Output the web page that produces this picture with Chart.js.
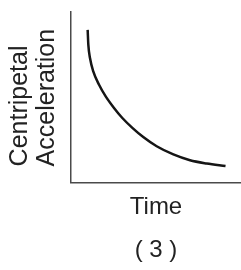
<!DOCTYPE html>
<html lang="en">
<head>
    <meta charset="UTF-8">
    <title>Centripetal Acceleration vs Time</title>
    <script src="https://cdn.jsdelivr.net/npm/chart.js"></script>
    <style>
        html, body { margin: 0; padding: 0; background: #ffffff; }
        #wrap { width: 241px; height: 270px; }
    </style>
</head>
<body>

<div id="wrap">
    <canvas id="accelChart" width="241" height="270"></canvas>
</div>

<script>

// values (arbitrary units, axes run 0..10)
const timeValues  = [0.98, 1.02, 1.12, 1.31, 1.65, 2.04, 2.53, 3.02, 3.61, 4.25, 5.04, 6.02, 7.00, 7.98, 9.09];
const accelValues = [8.95, 8.07, 7.29, 6.51, 5.73, 5.05, 4.37, 3.78, 3.20, 2.66, 2.12, 1.64, 1.30, 1.11, 0.96];
const yTitleLines = ['Centripetal', 'Acceleration'];
const xTitle = 'Time';
const panelLabel = '( 3 )';

const points = timeValues.map((t, i) => ({x: t, y: accelValues[i]}));

// y axis title: two lines, both starting near the bottom of the axis
const yTitlePlugin = {
    id: 'yTitle',
    afterDraw(chart) {
        const ctx = chart.ctx;
        const area = chart.chartArea;
        ctx.save();
        ctx.fillStyle = '#222';
        ctx.font = '25px "Liberation Sans", Arial, sans-serif';
        ctx.textAlign = 'left';
        ctx.textBaseline = 'alphabetic';
        ctx.translate(area.left - 44, area.bottom - 16);
        ctx.rotate(-Math.PI / 2);
        ctx.fillText(yTitleLines[0], 0, 0);
        ctx.fillText(yTitleLines[1], 0, 27);
        ctx.restore();
    }
};

const ctx = document.getElementById('accelChart').getContext('2d');

new Chart(ctx, {
    type: 'line',
    data: {
        datasets: [{
            data: points,
            borderColor: '#151515',
            borderWidth: 2.5,
            pointRadius: 0,
            fill: false,
            cubicInterpolationMode: 'monotone',
            borderCapStyle: 'butt'
        }]
    },
    options: {
        responsive: false,
        animation: false,
        layout: {
            padding: {top: 12, left: 71, right: 0, bottom: 0}
        },
        scales: {
            x: {
                type: 'linear',
                min: 0,
                max: 10,
                grid: {display: false, drawTicks: false},
                border: {display: true, color: '#4a4a4a', width: 1.5},
                ticks: {display: false},
                title: {
                    display: true,
                    text: xTitle,
                    color: '#222',
                    font: {family: '"Liberation Sans", Arial, sans-serif', size: 24},
                    padding: {top: 11, bottom: 0}
                }
            },
            y: {
                min: 0,
                max: 10,
                grid: {display: false, drawTicks: false},
                border: {display: true, color: '#4a4a4a', width: 1.5},
                ticks: {display: false}
            }
        },
        plugins: {
            legend: {display: false},
            tooltip: {enabled: false},
            title: {
                display: true,
                text: panelLabel,
                position: 'bottom',
                fullSize: false,
                color: '#222',
                font: {family: '"Liberation Sans", Arial, sans-serif', size: 24, weight: 'normal'},
                padding: {top: 14, bottom: 5}
            }
        }
    },
    plugins: [yTitlePlugin]
});

</script>

</body>
</html>
